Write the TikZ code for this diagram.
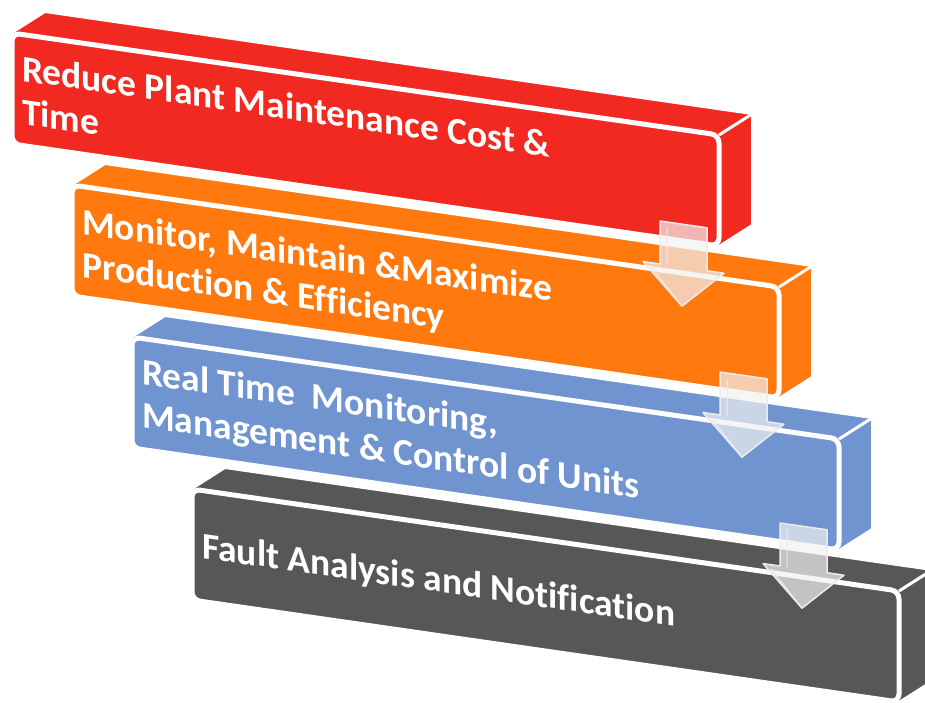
\documentclass[tikz,border=0pt]{standalone}
\usepackage{fontspec}
\setmainfont{Carlito}[Ligatures=NoCommon]
\usepackage{xcolor}
\usepackage{tikz}
\usetikzlibrary{calc}
\definecolor{BarRed}{RGB}{242,41,33}
\definecolor{BarOrange}{RGB}{255,121,14}
\definecolor{BarBlue}{RGB}{111,148,208}
\definecolor{BarGray}{RGB}{87,87,87}

\begin{document}
\begin{tikzpicture}[x=1pt, y=-1pt,
		barface/.style={draw=white, line width=2pt, line join=round},
		barfront/.style={draw=white, line width=5pt, rounded corners=8pt},
		bartext/.style={anchor=base west, inner sep=0pt, align=left, text=white,
			font=\bfseries\fontsize{37.5}{43}\selectfont, yslant=-0.144},
		flowarrow/.style={fill=gray!10, fill opacity=0.7, draw=white!85!gray, line width=1.5pt, line join=round}
		]
		\useasboundingbox (0,0) rectangle (925,702);
		\clip (0,0) rectangle (925,702);
		
		% ===== 4 thanh 3D =====
		\foreach \col/\off/\txt [count=\i from 0] in {
			BarRed/91/{Reduce Plant Maintenance Cost \&\\Time},
			BarOrange/92/{Monitor, Maintain \&Maximize\\Production \& Efficiency},
			BarBlue/90/{Real Time\ \ Monitoring,\\Management \& Control of Units},
			BarGray/69/{Fault Analysis and Notification}}{
			\begin{scope}[shift={(12+60*\i,33+152*\i)}]
				\fill[\col, barface] (0,111) -- (0,0) -- (33,-21) -- (740,81) -- (740,192) -- (707,213) -- cycle;
				\draw[barfront, fill=\col] (0,0) -- (707,102) -- (707,213) -- (0,111) -- cycle;
				\draw[white, line width=3pt] (707,102) -- (740,81);
				\node[bartext] (t\i) at (10,\off) {\txt};
			\end{scope}
		}
		
		% ===== mũi tên giữa các thanh =====
		\foreach \j in {0,1,2}{
			\begin{scope}[shift={(660+60*\j,221+151*\j)}, yslant=-0.144]
				\draw[flowarrow] (0,0) -- (47,0) -- (47,43) -- (64,43) -- (22,82) -- (-17,43) -- (0,43) -- cycle;
				\draw[draw=white!85!gray, line width=1pt] (7,5) -- (7,43) (-9,47) -- (22,82);
			\end{scope}
		}
		
	\end{tikzpicture}
\end{document}
